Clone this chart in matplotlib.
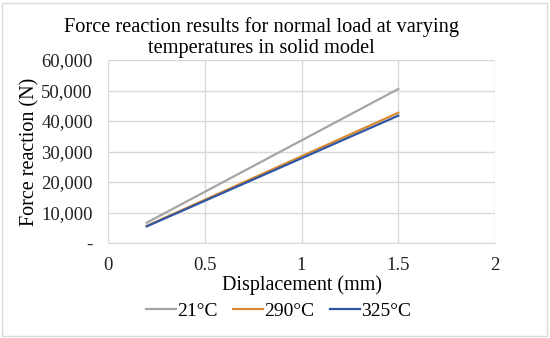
import matplotlib.pyplot as plt
from matplotlib.ticker import FuncFormatter
from matplotlib.patches import Rectangle

# data
displacement = [0.2, 1.5]
force_21 = [6650, 50500]
force_290 = [5600, 42700]
force_325 = [5450, 41750]

plt.rcParams['font.family'] = ['Liberation Serif', 'DejaVu Serif']

fig = plt.figure(figsize=(5.5, 3.38), dpi=100)
ax = fig.add_axes([108 / 550, 1 - 243 / 338, (495 - 108) / 550, (243 - 60) / 338])

# border round the whole chart
fig.patches.append(Rectangle((0.004, 0.006), 0.99, 0.985, transform=fig.transFigure,
                             fill=False, edgecolor='#d9d9d9', linewidth=1))

ax.plot(displacement, force_21, color='#a5a5a5', linewidth=1.6, label='21°C')
ax.plot(displacement, force_290, color='#d98a2c', linewidth=1.6, label='290°C')
ax.plot(displacement, force_325, color='#2f55a4', linewidth=1.6, label='325°C')

ax.set_xlim(0, 2)
ax.set_ylim(0, 60000)
ax.set_xticks([0, 0.5, 1, 1.5, 2])
ax.set_xticklabels(['0', '0.5', '1', '1.5', '2'])
ax.set_yticks(range(0, 60001, 10000))
ax.yaxis.set_major_formatter(FuncFormatter(lambda v, p: '-' if v == 0 else f'{int(v):,}'))

ax.grid(True, color='#d9d9d9', linewidth=1)
ax.set_axisbelow(True)
for s in ['top', 'right', 'left']:
    ax.spines[s].set_visible(False)
ax.spines['bottom'].set_color('#d9d9d9')
ax.tick_params(length=0, labelsize=13.5, colors='#222222')
ax.tick_params(axis='x', pad=10)
ax.tick_params(axis='y', pad=11)

ax.set_xlabel('Displacement (mm)', fontsize=14.5, labelpad=1)
ax.set_ylabel('Force reaction (N)', fontsize=14.5, labelpad=1)

# title in two lines, each its own text
fig.text(261 / 550, 1 - 27 / 338, 'Force reaction results for normal load at varying',
         ha='center', va='center', fontsize=14.7)
fig.text(261 / 550, 1 - 48 / 338, 'temperatures in solid model',
         ha='center', va='center', fontsize=14.7)

ax.legend(loc='center', bbox_to_anchor=(0.44, (1 - 311 / 338 - (1 - 243 / 338)) / ((243 - 60) / 338)),
          bbox_transform=ax.transAxes, ncol=3, frameon=False, fontsize=14,
          handlelength=1.55, handletextpad=0.05, columnspacing=0.8)

fig.savefig('out.png', dpi=100)
